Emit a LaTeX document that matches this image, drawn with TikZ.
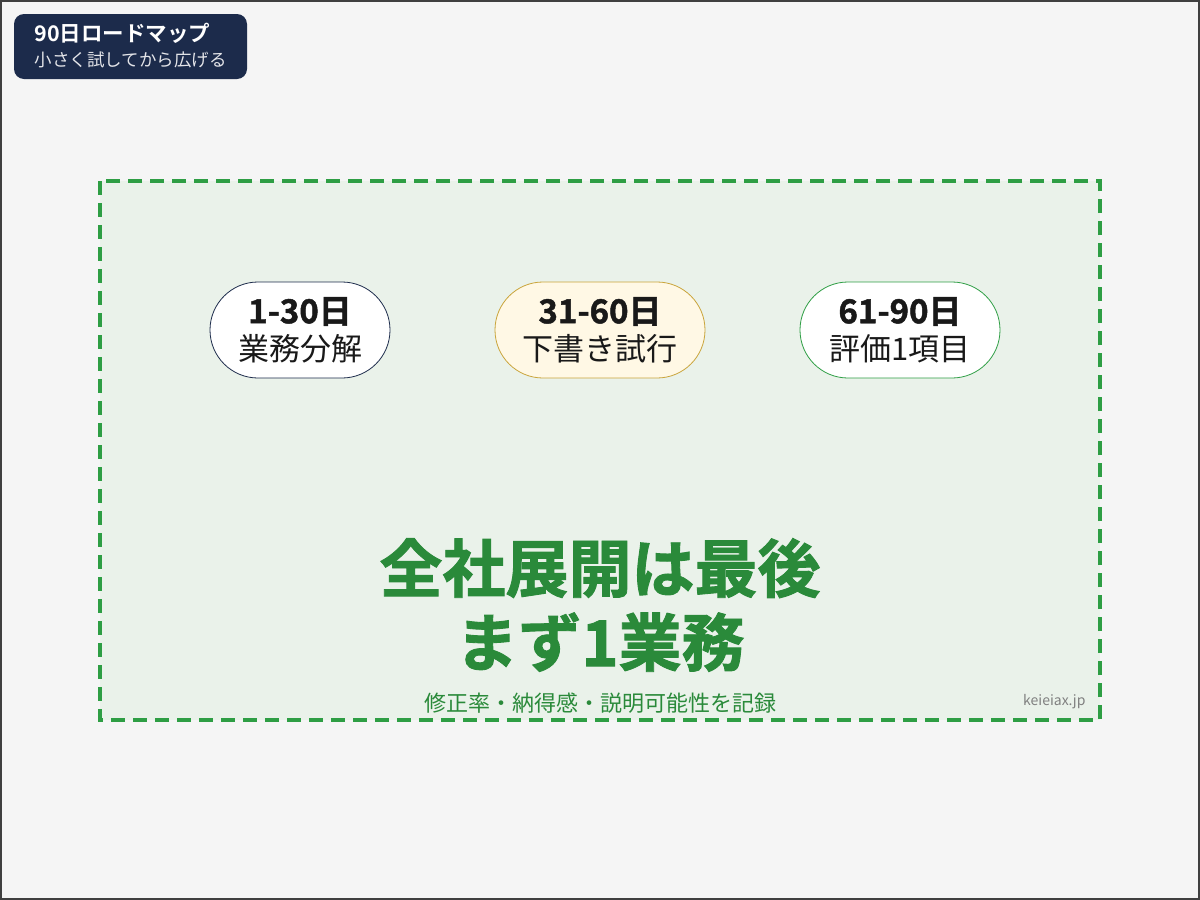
\documentclass[tikz,border=0pt]{standalone}
\usepackage{fontspec}
\newfontfamily\jp{Noto Sans CJK JP}
\newfontfamily\jpheavy{Noto Sans CJK JP Bold}[BoldFont={Noto Sans CJK JP Bold}, BoldFeatures={FakeBold=1.4}]
\usetikzlibrary{positioning}
\definecolor{pagebg}{HTML}{F5F5F5}
\definecolor{navy}{HTML}{1C2B4B}
\definecolor{leaf}{HTML}{2E9E44}
\definecolor{leafdark}{HTML}{2A8A3A}
\definecolor{leafbg}{HTML}{EAF2EA}
\definecolor{cream}{HTML}{FFF8E5}
\definecolor{gold}{HTML}{C9A43A}
\newcommand{\phasetext}[2]{{\fontsize{33}{37}\selectfont\jpheavy\bfseries #1}\\{\fontsize{31}{37}\selectfont #2}}
\tikzset{
  pill/.style={rectangle, rounded corners=48pt, minimum height=96pt, align=center, text=black!90,
    font=\jp\fontsize{31}{37}\selectfont, line width=0.8pt}
}
\begin{document}
\begin{tikzpicture}[x=1pt,y=-1pt]
	\useasboundingbox (0,0) rectangle (1200,900);
	\fill[pagebg] (0,0) rectangle (1200,900);
	\draw[black!75, line width=2pt] (1,1) rectangle (1199,899);
	% badge
	\fill[navy, rounded corners=10pt] (14,14) rectangle (247,79);
	\node[anchor=west, text=white, font=\jpheavy\fontsize{21.5}{24}\selectfont, name=title] at (31,33) {90日ロードマップ};
	\node[anchor=west, text=white!88!navy, font=\jp\fontsize{17.5}{20}\selectfont, name=subtitle] at (31,60) {小さく試してから広げる};
	% dashed area
	\draw[leaf, fill=leafbg, line width=3.5pt, dash pattern=on 14pt off 8pt] (100,181) rectangle (1100,720);
	% phases
	\node[pill, draw=navy, fill=white, minimum width=180pt, name=phaseA] at (300,330) {\phasetext{1-30日}{業務分解}};
	\node[pill, draw=gold, fill=cream, minimum width=210pt, name=phaseB] at (600,330) {\phasetext{31-60日}{下書き試行}};
	\node[pill, draw=leaf, fill=white, minimum width=200pt, name=phaseC] at (900,330) {\phasetext{61-90日}{評価1項目}};
	% message
	\node[text=leafdark, font=\jpheavy\bfseries\fontsize{63}{74}\selectfont, align=center, name=msg] at (600,605) {全社展開は最後\\まず1業務};
	\node[text=leafdark, font=\jp\fontsize{22}{24}\selectfont, name=note] at (600,703) {修正率・納得感・説明可能性を記録};
	\node[anchor=east, text=black!50, font=\jp\fontsize{14}{16}\selectfont, name=site] at (1089,702) {keieiax.jp};
\end{tikzpicture}
\end{document}
